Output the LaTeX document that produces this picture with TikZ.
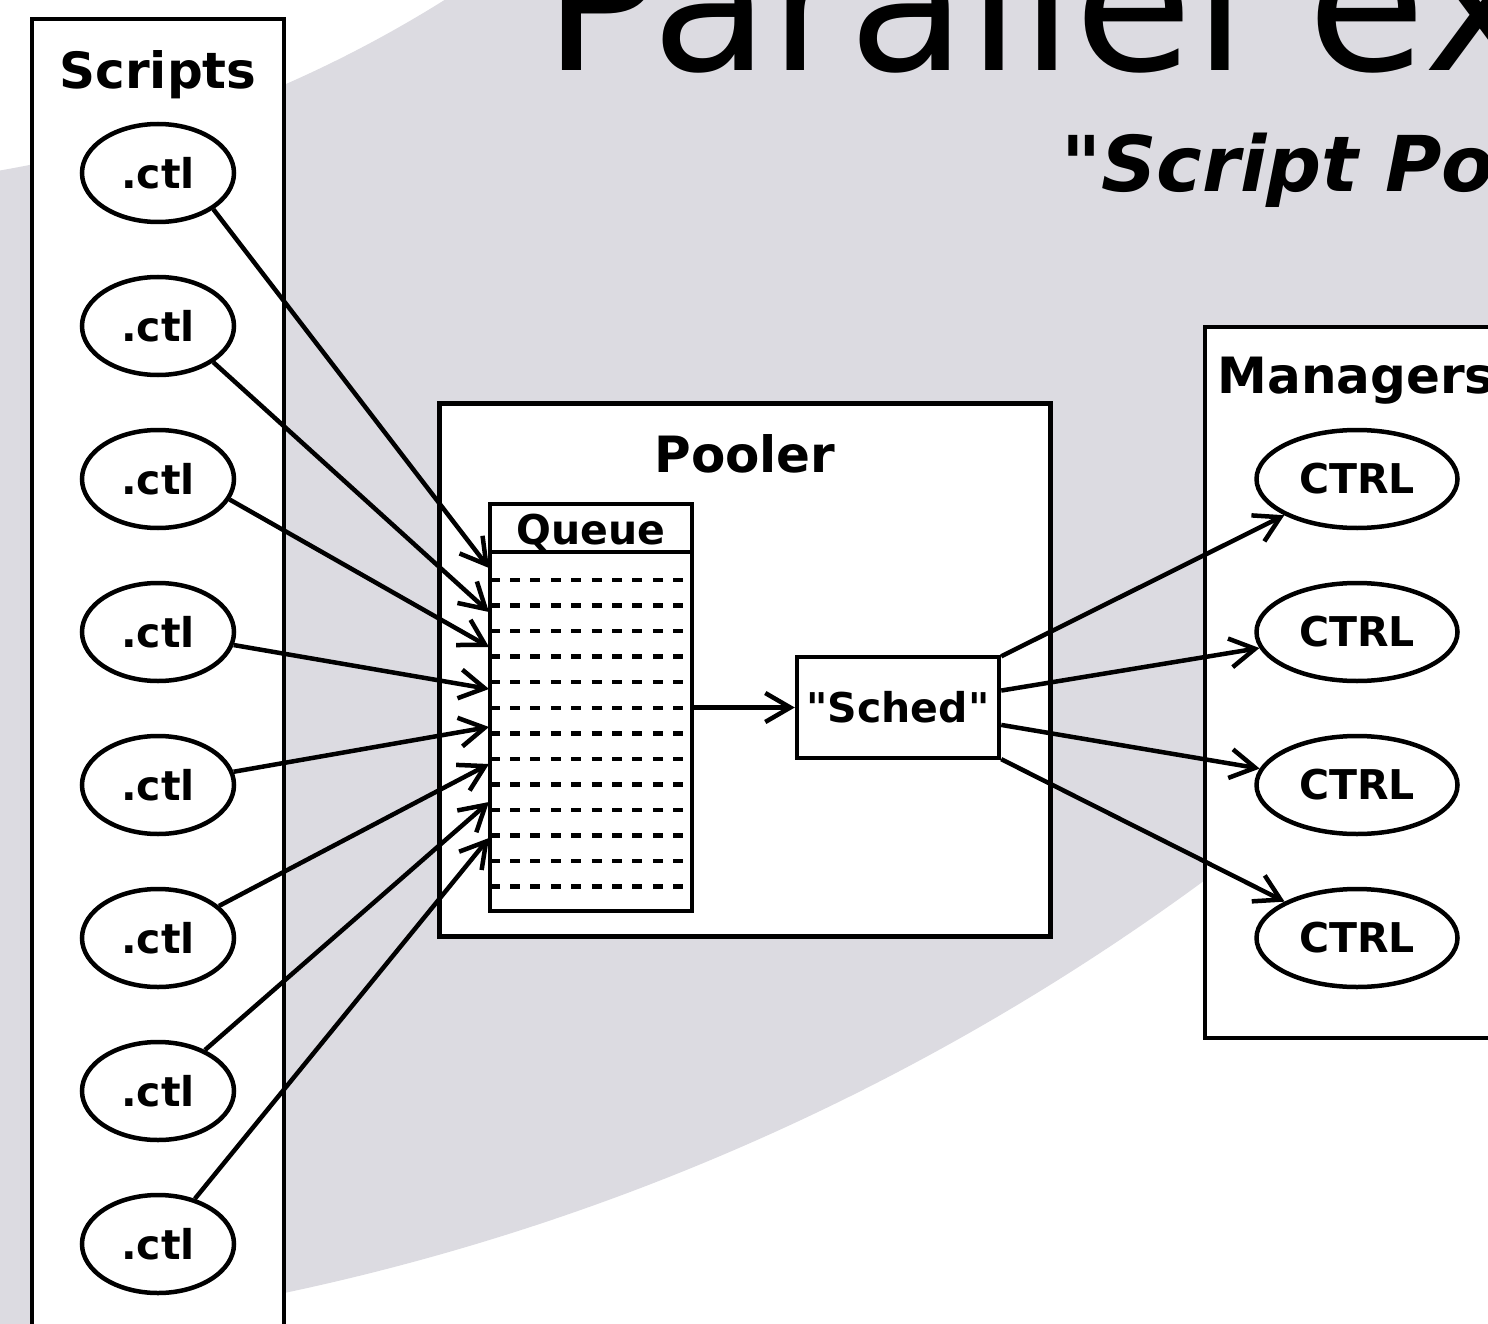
\documentclass[tikz,border=0pt]{standalone}
\usepackage{fontspec}
\setmainfont{DejaVu Sans}[Ligatures=TeXOff]
\usetikzlibrary{arrows.meta,shapes.geometric}
\definecolor{swoosh}{RGB}{220,219,225}

\begin{document}
\begin{tikzpicture}[x=1pt,y=-1pt,
  every node/.style={inner sep=0pt},
  frame/.style={draw, line width=4.5pt, fill=white},
  labelfont/.style={font=\fontsize{41}{41}\selectfont\bfseries},
  script/.style={ellipse, draw, line width=4.5pt, fill=white,
    minimum width=152pt, minimum height=98pt, labelfont},
  ctrlnode/.style={ellipse, draw, line width=4.5pt, fill=white,
    minimum width=201pt, minimum height=98pt, labelfont},
  heading/.style={font=\fontsize{50}{50}\selectfont\bfseries, anchor=base},
  flow/.style={-{Straight Barb[length=25pt,width=29pt]}, line width=4.5pt},
  slot/.style={line width=4.5pt, dash pattern=on 10pt off 10.4pt}
]
\useasboundingbox (0,0) rectangle (1488,1324);
\clip (0,0) rectangle (1488,1324);

% background swoosh: a wide ring centred above the top-left corner
\fill[swoosh, even odd rule]
  (-215,-1055) circle[radius=2400pt] (-215,-1055) circle[radius=1244pt];

% title and subtitle
\node[anchor=base west, font=\fontsize{193}{193}\selectfont] (title) at (543,71) {Parallel ex};
\node[anchor=base west, font=\fontsize{77}{77}\selectfont\bfseries\itshape] (subtitle) at (1061,192)
  {"Script Po};

% script column
\node[frame, minimum width=252pt, minimum height=1321pt] (scripts) at (157.75,679.75) {};
\node[heading] (scriptstitle) at (158,89) {Scripts};
\foreach \i in {1,...,8}
  \node[script] (ctl\i) at (158,{173+153*(\i-1)}) {.ctl};

% pooler with its queue and scheduler
\node[frame, minimum width=611pt, minimum height=533pt] (pooler) at (745,670) {};
\node[heading] (poolertitle) at (745,472) {Pooler};
\node[frame, minimum width=202pt, minimum height=407pt] (queue) at (591,707.5) {};
\draw[line width=4.5pt] ([yshift=-50pt]queue.north west) -- ([yshift=-50pt]queue.north east);
\node[labelfont, anchor=base] (queuetitle) at (591,544) {Queue};
\foreach \k in {0,...,12}
  \draw[slot] (489.6,{580+25.55*\k}) -- (684,{580+25.55*\k});
\node[frame, minimum width=202pt, minimum height=101pt, labelfont] (sched) at (898,707.5)
  {"Sched"};

% managers column
\node[frame, minimum width=335pt, minimum height=711pt] (managers) at (1372.5,682.5) {};
\node[heading, anchor=base west] (managerstitle) at (1217.5,393) {Managers};
\foreach \i in {1,...,4}
  \node[ctrlnode] (ctrl\i) at (1357,{479+153*(\i-1)}) {CTRL};

% entry points on the queue's left side
\coordinate (in1) at (489,568);
\coordinate (in2) at (489,612);
\coordinate (in3) at (489,647);
\coordinate (in4) at (489,689);
\coordinate (in5) at (489,727);
\coordinate (in6) at (489,764);
\coordinate (in7) at (489,802);
\coordinate (in8) at (489,838);

% connectors
\draw[flow] (ctl1.south east) -- (in1);
\draw[flow] (ctl2.south east) -- (in2);
\draw[flow] (ctl3.-16) -- (in3);
\foreach \i in {4,...,8}
  \draw[flow] (ctl\i) -- (in\i);
\draw[flow] (queue) -- (sched);
\foreach \i in {1,...,4}
  \draw[flow] (sched) -- (ctrl\i);
\end{tikzpicture}
\end{document}
